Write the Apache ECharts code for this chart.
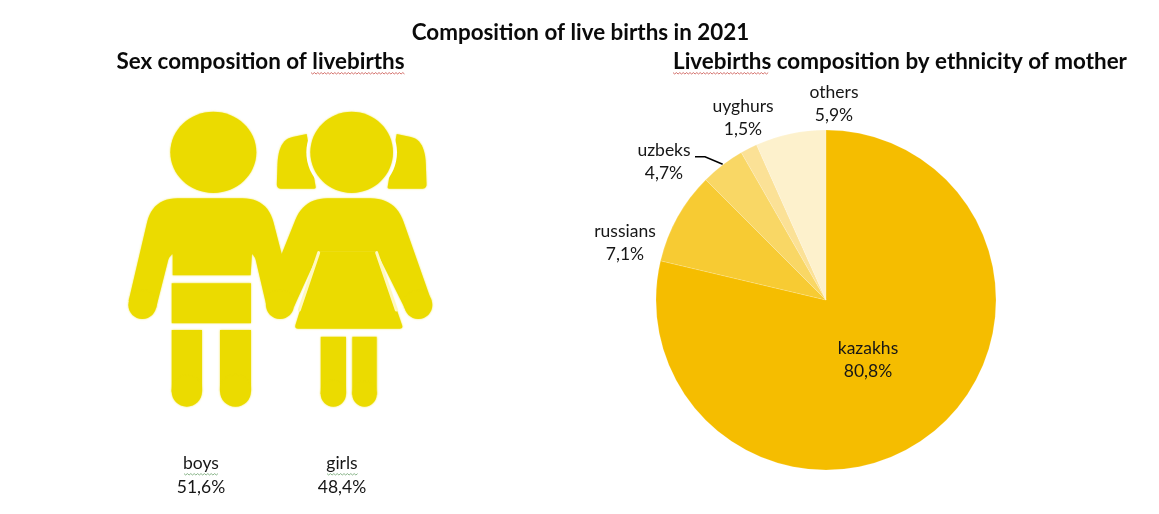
<!DOCTYPE html>
<html><head><meta charset="utf-8">
<style>html,body{margin:0;padding:0;background:#fff}#c{width:1159px;height:514px}</style>
<script src="https://cdn.jsdelivr.net/npm/echarts@6/dist/echarts.min.js"></script>
</head><body><div id="c"></div>
<script>
const ethnicCategories = ['kazakhs','russians','uzbeks','uyghurs','others'];
// percentages as printed on the reference's labels
const ethnicPrinted = [80.8,7.1,4.7,1.5,5.9];
const ethnicDrawnShares = [78.7,8.8,4.2,1.6,6.7];
const ethnicColors = ['#F5BD00','#F7CB33','#F9D765','#FBE196','#FDF1CC'];
const sexCategories = ['boys','girls'];
const sexValues = [51.6,48.4];
const mainTitle = 'Composition of live births in 2021';
const leftTitle = 'Sex composition of livebirths';
const rightTitle = 'Livebirths composition by ethnicity of mother';

const FONT = 'Lato, "Open Sans", sans-serif';
const INK = '#161616';
const GOLD = '#EBDB00';
const SLIT = '#FFF8C0';
const fmt = v => v.toFixed(1).replace('.', ',') + '%';
const labelAt = {
  kazakhs:[868,360], russians:[625,243], uzbeks:[664,162], uyghurs:[743,118], others:[834,104]
};

// the icon is traced in zoom-crop units: [x, y, cornerRadius]
const X = x => 100 + x/3, Y = y => 90 + y/3;
function rounded(pts){
  const out=[], n=pts.length;
  for(let i=0;i<n;i++){
    const p=pts[i], a=pts[(i+n-1)%n], b=pts[(i+1)%n], r=p[2]||0;
    if(!r){ out.push([p[0],p[1]]); continue; }
    const la=Math.hypot(a[0]-p[0],a[1]-p[1]), lb=Math.hypot(b[0]-p[0],b[1]-p[1]);
    const ta=Math.min(r,la/2), tb=Math.min(r,lb/2);
    const s=[p[0]+(a[0]-p[0])*ta/la, p[1]+(a[1]-p[1])*ta/la];
    const e=[p[0]+(b[0]-p[0])*tb/lb, p[1]+(b[1]-p[1])*tb/lb];
    for(let k=0;k<=12;k++){
      const t=k/12,u=1-t;
      out.push([u*u*s[0]+2*u*t*p[0]+t*t*e[0], u*u*s[1]+2*u*t*p[1]+t*t*e[1]]);
    }
  }
  return out.map(q=>[X(q[0]),Y(q[1])]);
}
const soft = {shadowBlur:2, shadowColor:'rgba(235,219,0,0.7)'};
const poly = pts => ({type:'polygon', silent:true, shape:{points:rounded(pts)}, style:{fill:GOLD, ...soft}});
const oval = (x,y,rx,ry,fill) => ({type:'ellipse', silent:true, shape:{cx:X(x), cy:Y(y), rx:rx/3, ry:ry/3}, style:fill?{fill}:{fill:GOLD, ...soft}});
const slit = pts => ({type:'polyline', silent:true, shape:{points:pts.map(p=>[X(p[0]),Y(p[1])])}, style:{fill:null, stroke:SLIT, lineWidth:3, lineCap:'round'}});
const leg = (x0,x1,y0,y1) => {
  const rx=(x1-x0)/2;
  return [poly([[x0,y0],[x1,y0],[x1,y1-rx],[x0,y1-rx]]), oval(x0+rx,y1-rx,rx,rx)];
};

const icon = [
  // pigtails
  poly([[620,132],[535,150,130],[530,296,14],[648,296,6]]),
  poly([[890,132],[975,150,130],[980,296,14],[862,296,6]]),
  oval(755,187,136,134,'#fff'),
  oval(755,187,124,122),
  oval(340,187,129,122),
  // joined upper bodies and arms
  poly([[158,325,75],[86,632],[168,655],[206,505,6],[218,490,6],[218,556],[452,556],[456,490,6],[466,505,6],[500,650],[582,650],[657,485],
        [830,485],[915,656],[994,632],[886,325,75],[612,325,70],[545,492],[502,325,75]]),
  oval(127,645,42,42), oval(540,645,42,42), oval(955,645,42,42),
  // dress
  poly([[655,485],[830,485],[910,716,12],[583,716,12]]),
  slit([[656,488],[598,660]]),
  slit([[830,488],[889,660]]),
  // shorts
  poly([[215,580],[453,580],[453,700],[215,700]]),
  // legs
  ...leg(215,306,720,950), ...leg(360,453,720,950), ...leg(662,738,740,950), ...leg(757,830,740,950)
];

const zig = (x0,x1,y,col) => {
  const pts=[]; let i=0;
  for(let x=x0;x<=x1;x+=1.7,i++) pts.push([x, y+(i%2?1:-0.4)]);
  return {type:'polyline', silent:true, shape:{points:pts}, style:{fill:null, stroke:col, lineWidth:0.8}};
};
const sexLabels = sexCategories.map((c,i)=>({
  type:'text', silent:true, x:[201,342][i], y:475.5,
  style:{text:c+'\n'+fmt(sexValues[i]), font:'17.5px '+FONT, fill:INK, align:'center', verticalAlign:'middle', lineHeight:23.5}
}));
const squiggles = [
  zig(311,405,73,'#C9504A'), zig(673,769,73,'#C9504A'),
  zig(184,219,474,'#6FA36F'), zig(327,358,474,'#6FA36F')
];

const chart = echarts.init(document.getElementById('c'));
const titleStyle = {fontFamily:FONT, fontWeight:'bold', fontSize:22.4, color:'#0a0a0a'};
chart.setOption({
  animation:false,
  backgroundColor:'#fff',
  title:[
    {text:mainTitle, left:580.5, top:33, textAlign:'center', textVerticalAlign:'middle', textStyle:titleStyle, padding:0},
    {text:leftTitle, left:260.5, top:62, textAlign:'center', textVerticalAlign:'middle', textStyle:titleStyle, padding:0},
    {text:rightTitle, left:900, top:62, textAlign:'center', textVerticalAlign:'middle', textStyle:titleStyle, padding:0}
  ],
  graphic:{elements:[...icon, ...sexLabels, ...squiggles]},
  series:[{
    type:'pie',
    center:[826,300], radius:[0,170],
    startAngle:90, clockwise:true, minAngle:0,
    silent:true,
    data:ethnicCategories.map((name,i)=>({
      name, value:ethnicDrawnShares[i], printed:ethnicPrinted[i],
      itemStyle:{color:ethnicColors[i]},
      labelLine:{show:name==='uzbeks'}
    })),
    itemStyle:{borderColor:'rgba(255,255,255,0.3)', borderWidth:0.5},
    label:{show:true, position:'outside', formatter:p=>p.name+'\n'+fmt(p.data.printed), fontFamily:FONT, fontSize:17.5, lineHeight:23.5, color:INK, align:'center'},
    labelLine:{show:true, length:10, length2:10, lineStyle:{color:'#000', width:1.5}},
    labelLayout:p=>{
      const name = ethnicCategories[p.dataIndex], a = labelAt[name];
      const res = {x:a[0], y:a[1], align:'center', verticalAlign:'middle', hideOverlap:false, moveOverlap:false};
      if(name==='uzbeks') res.labelLinePoints = [[695,156.7],[705,156.7],[722.7,164.3]];
      return res;
    }
  }]
});
</script></body></html>
